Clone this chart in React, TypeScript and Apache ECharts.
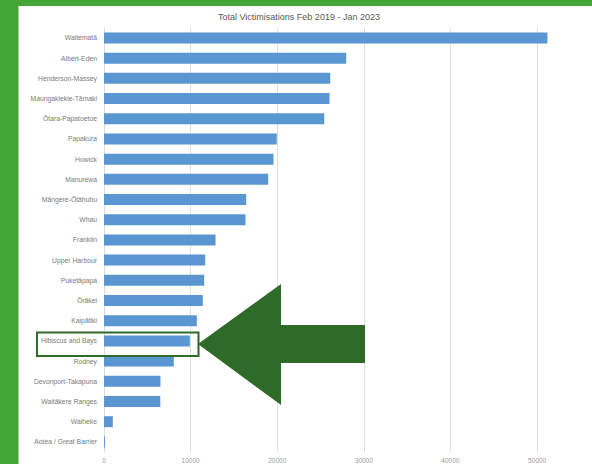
import React, { useEffect, useRef } from "react";
import * as echarts from "echarts";

const title = "Total Victimisations Feb 2019 - Jan 2023";
const boards = [
  "Waitematā",
  "Albert-Eden",
  "Henderson-Massey",
  "Maungakiekie-Tāmaki",
  "Ōtara-Papatoetoe",
  "Papakura",
  "Howick",
  "Manurewa",
  "Māngere-Ōtāhuhu",
  "Whau",
  "Franklin",
  "Upper Harbour",
  "Puketāpapa",
  "Ōrākei",
  "Kaipātiki",
  "Hibiscus and Bays",
  "Rodney",
  "Devonport-Takapuna",
  "Waitākere Ranges",
  "Waiheke",
  "Aotea / Great Barrier",
];
const victimisations = [
  51200, 27970, 26120, 26040, 25430, 19950, 19570, 18960, 16420, 16340, 12880,
  11690, 11570, 11410, 10720, 9910, 8060, 6520, 6500, 1020, 110,
];
const xTicks = [0, 10000, 20000, 30000, 40000, 50000, 60000];

export default function App() {
  const ref = useRef<HTMLDivElement>(null);
  useEffect(() => {
    if (!ref.current) return;
    const chart = echarts.init(ref.current, null, { renderer: "svg" });
    chart.setOption({
      animation: false,
      backgroundColor: "#ffffff",
      title: {
        text: title,
        left: 213,
        top: 7,
        textStyle: {
          fontSize: 9,
          fontWeight: "normal",
          color: "#595959",
          fontFamily: "Liberation Sans",
        },
      },
      grid: { left: 104, top: 27.85, width: 519.6, height: 426.3, containLabel: false },
      xAxis: {
        type: "value",
        min: xTicks[0],
        max: xTicks[xTicks.length - 1],
        interval: 10000,
        axisLine: { show: false },
        axisTick: { show: false },
        splitLine: { show: true, lineStyle: { color: "#dedede", width: 1 } },
        axisLabel: {
          color: "#9a9a9a",
          fontSize: 6.5,
          margin: 5,
          showMaxLabel: false,
          fontFamily: "Liberation Sans",
          formatter: (v: number) => String(v),
        },
      },
      yAxis: {
        type: "category",
        data: boards,
        inverse: true,
        axisLine: { show: true, lineStyle: { color: "#dadada" } },
        axisTick: { show: false },
        axisLabel: { color: "#7a7a7a", fontSize: 6.8, margin: 7, fontFamily: "Liberation Sans" },
      },
      series: [
        {
          type: "bar",
          data: victimisations,
          barWidth: 11,
          itemStyle: { color: "#5a96d2" },
        },
      ],
      graphic: [
        { type: "rect", shape: { x: 0, y: 0, width: 18.5, height: 464 }, style: { fill: "#43a535" }, z: 100 },
        { type: "rect", shape: { x: 0, y: 0, width: 660, height: 6 }, style: { fill: "#43a535" }, z: 100 },
        {
          type: "rect",
          shape: { x: 37, y: 332.5, width: 161.5, height: 23.5 },
          style: { fill: "none", stroke: "#2e6a2a", lineWidth: 2 },
          z: 100,
        },
        {
          type: "polygon",
          shape: {
            points: [
              [198, 344],
              [281, 284],
              [281, 325],
              [365, 325],
              [365, 363],
              [281, 363],
              [281, 405],
            ],
          },
          style: { fill: "#2e6b28" },
          z: 100,
        },
      ],
    });
    return () => chart.dispose();
  }, []);
  return (
    <div
      style={{
        position: "fixed",
        left: 0,
        top: 0,
        width: 592,
        height: 464,
        overflow: "hidden",
        background: "#ffffff",
      }}
    >
      <div ref={ref} style={{ width: 660, height: 464 }} />
    </div>
  );
}
